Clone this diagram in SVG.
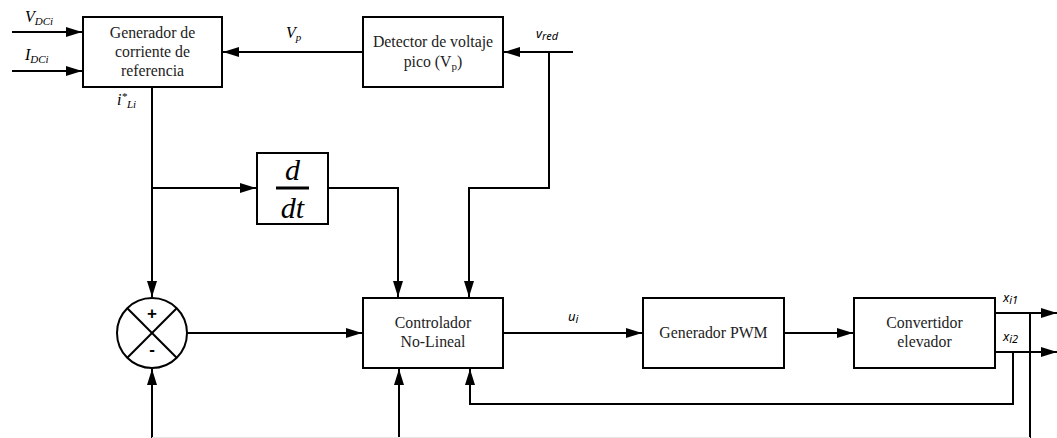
<svg xmlns="http://www.w3.org/2000/svg" width="1057" height="438" viewBox="0 0 1057 438">
<defs>
<marker id="ah" viewBox="0 0 16 10" refX="16" refY="5" markerWidth="16" markerHeight="10" markerUnits="userSpaceOnUse" orient="auto">
<path d="M0,0 L16,5 L0,10 Z" fill="#000"/>
</marker>
<style>
.box{fill:#fff;stroke:#000;stroke-width:2}
.ln{fill:none;stroke:#000;stroke-width:2}
.arr{fill:none;stroke:#000;stroke-width:2;marker-end:url(#ah)}
.t{font-family:"Liberation Serif",serif;font-size:15.8px;fill:#222;text-anchor:middle}
.lb{font-family:"Liberation Serif",serif;font-style:italic;font-size:16px;fill:#000}
.ls{font-family:"Noto Sans","DejaVu Sans",sans-serif;font-style:italic;font-size:13px;fill:#000}
.sub{font-size:11px}
</style>
</defs>
<rect width="1057" height="438" fill="#fff"/>
<g id="connectors">
<line class="arr" x1="12" y1="32" x2="82" y2="32"/>
<line class="arr" x1="12" y1="71" x2="82" y2="71"/>
<line class="arr" x1="363" y1="52" x2="223" y2="52"/>
<line class="arr" x1="573" y1="52" x2="504" y2="52"/>
<polyline class="arr" points="549,52 549,188 469,188 469,297"/>
<line class="arr" x1="152" y1="88" x2="152" y2="297"/>
<line class="arr" x1="152" y1="188" x2="256" y2="188"/>
<polyline class="arr" points="329,188 398,188 398,297"/>
<line class="arr" x1="187" y1="333" x2="362" y2="333"/>
<line class="arr" x1="504" y1="333" x2="642" y2="333"/>
<line class="arr" x1="785" y1="333" x2="853" y2="333"/>
<line class="arr" x1="995" y1="313" x2="1057" y2="313"/>
<line class="arr" x1="995" y1="352" x2="1057" y2="352"/>
<line class="ln" x1="1030" y1="313" x2="1030" y2="438"/>
<polyline class="arr" points="1013,352 1013,404 470,404 470,369"/>
<line class="arr" x1="152" y1="438" x2="152" y2="369"/>
<line class="arr" x1="399" y1="438" x2="399" y2="369"/>
<line x1="152" y1="437.5" x2="1030" y2="437.5" stroke="#e6e6e6" stroke-width="1"/>
</g>
<g id="labels">
<text class="lb" x="25" y="22">V<tspan class="sub" dy="3">DCi</tspan></text>
<text class="lb" x="25" y="60">I<tspan class="sub" dy="3">DCi</tspan></text>
<text class="lb" x="286" y="38">V<tspan class="sub" dy="3">p</tspan></text>
<text class="ls" x="536" y="38">v<tspan class="sub" dy="2">red</tspan></text>
<text class="lb" x="117" y="105">i<tspan class="sub" dy="-5">*</tspan><tspan class="sub" dy="8">Li</tspan></text>
<text class="ls" x="568" y="321">u<tspan class="sub" dy="2">i</tspan></text>
<text class="ls" x="1003" y="302">x<tspan class="sub" dy="2">i1</tspan></text>
<text class="ls" x="1003" y="341">x<tspan class="sub" dy="2">i2</tspan></text>
</g>
<g id="gen-corriente">
<rect class="box" x="83" y="17" width="139" height="70"/>
<text class="t" x="152.5" y="38">Generador de</text>
<text class="t" x="152.5" y="57">corriente de</text>
<text class="t" x="152.5" y="76">referencia</text>
</g>
<g id="detector">
<rect class="box" x="363" y="17" width="140" height="70"/>
<text class="t" x="433" y="47">Detector de voltaje</text>
<text class="t" x="433" y="67">pico (V<tspan font-size="11" dy="3">p</tspan><tspan dy="-3">)</tspan></text>
</g>
<g id="derivada">
<rect class="box" x="257" y="153" width="71" height="71"/>
<text x="292.5" y="180" font-family="Liberation Serif,serif" font-style="italic" font-size="30" text-anchor="middle">d</text>
<line x1="276" y1="188" x2="309" y2="188" stroke="#000" stroke-width="3"/>
<text x="292.5" y="218" font-family="Liberation Serif,serif" font-style="italic" font-size="30" text-anchor="middle">dt</text>
</g>
<g id="sumador">
<circle class="box" cx="152" cy="333" r="35"/>
<line class="ln" x1="127.3" y1="308.3" x2="176.7" y2="357.7"/>
<line class="ln" x1="176.7" y1="308.3" x2="127.3" y2="357.7"/>
<text x="152" y="319" font-family="Liberation Sans,sans-serif" font-weight="bold" font-size="17" text-anchor="middle">+</text>
<text x="152" y="355" font-family="Liberation Sans,sans-serif" font-weight="bold" font-size="17" text-anchor="middle">-</text>
</g>
<g id="controlador">
<rect class="box" x="363" y="298" width="140" height="70"/>
<text class="t" x="433" y="328">Controlador</text>
<text class="t" x="433" y="347">No-Lineal</text>
</g>
<g id="pwm">
<rect class="box" x="643" y="298" width="141" height="70"/>
<text class="t" x="713.5" y="338">Generador PWM</text>
</g>
<g id="convertidor">
<rect class="box" x="854" y="298" width="141" height="70"/>
<text class="t" x="924.5" y="328">Convertidor</text>
<text class="t" x="924.5" y="347">elevador</text>
</g>
</svg>
